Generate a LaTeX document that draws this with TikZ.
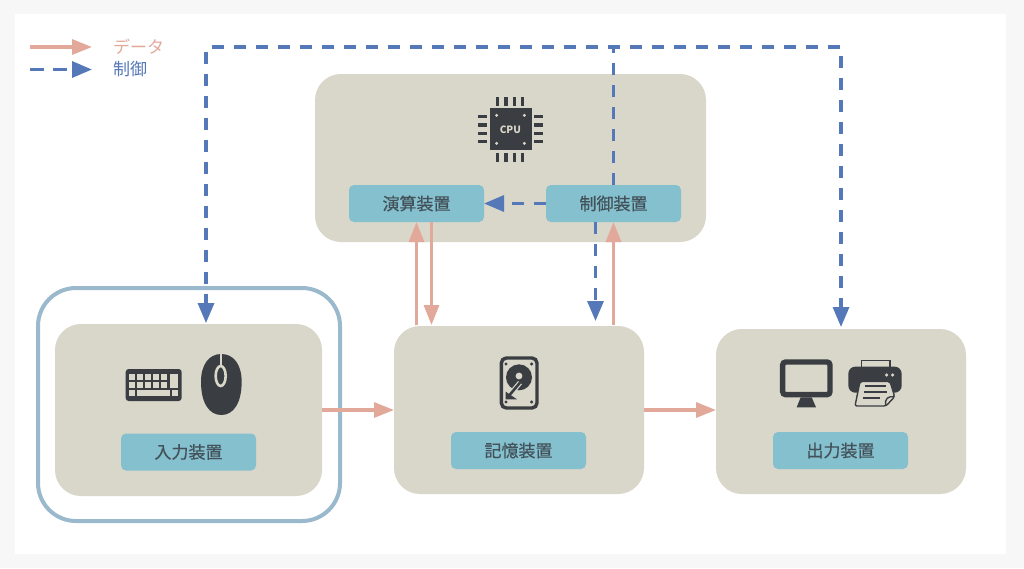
\documentclass[tikz,border=0pt]{standalone}
\usepackage{fontspec}
\setmainfont{Noto Sans CJK JP}
\newfontfamily\tagfont[FakeBold=0.6]{Noto Sans CJK JP}
\usetikzlibrary{arrows.meta}
\definecolor{beige}{HTML}{D9D6CA}
\definecolor{teal}{HTML}{85C0CE}
\definecolor{ink}{HTML}{3A3E42}
\definecolor{labelink}{HTML}{43525A}
\definecolor{ctrlblue}{HTML}{5578B8}
\definecolor{datared}{HTML}{E2A99B}
\definecolor{ringblue}{HTML}{9BB9CC}
\definecolor{pagegrey}{HTML}{F7F7F7}
\tikzset{
  x=1pt,y=-1pt,
  unitbox/.style={fill=beige,draw=none,rounded corners=26pt,minimum width=#1,inner sep=0pt,outer sep=0pt},
  tag/.style={fill=teal,rounded corners=5pt,minimum width=135pt,minimum height=37pt,inner sep=0pt,outer sep=0pt,text=labelink,font=\fontsize{17pt}{19pt}\tagfont},
  dataline/.style={datared,line width=3.2pt,-{Triangle[length=20pt,width=15pt]}},
  ctrlline/.style={ctrlblue,line width=3.2pt,dash pattern=on 12pt off 10pt,-{Triangle[length=20pt,width=16pt]}},
  legendtext/.style={font=\fontsize{17pt}{19pt}\selectfont,inner sep=0pt,anchor=west},
  zm/.style 2 args={shift={(#1,#2)},x=0.33333pt,y=-0.33333pt},
}
\begin{document}
\begin{tikzpicture}
\useasboundingbox (0,0) rectangle (1024,568);
\fill[pagegrey] (0,0) rectangle (1024,568);
\fill[white] (15,14) rectangle (1006,554);

% units
\node[unitbox=391pt,minimum height=168pt] (cpubox) at (510.5,158) {};
\node[unitbox=267pt,minimum height=172pt] (inbox) at (188.5,410) {};
\node[unitbox=250pt,minimum height=168pt] (membox) at (519,410) {};
\node[unitbox=250pt,minimum height=165pt] (outbox) at (841,411.5) {};
\node[draw=ringblue,line width=4pt,rounded corners=38pt,minimum width=302pt,minimum height=233pt,inner sep=0pt] (ring) at (189,404.5) {};

% labels
\node[tag] (alu) at (416.5,203.5) {演算装置};
\node[tag] (ctl) at (613.5,203.5) {制御装置};
\node[tag] (inlabel) at (188.5,452) {入力装置};
\node[tag] (memlabel) at (518.5,450.5) {記憶装置};
\node[tag] (outlabel) at (840.5,450.5) {出力装置};

% connectors
\coordinate (bus) at (613.5,47);
\draw[ctrlline] (ctl.north) -- (bus) -| ([xshift=17.5pt,yshift=1pt]inbox.north);
\draw[ctrlline] (ctl.north) -- (bus) -| ([yshift=2pt]outbox.north);
\draw[ctrlline] (ctl.west) -- (alu.east);
\draw[ctrlline] ([xshift=-18pt]ctl.south) -- ([xshift=-18pt,yshift=5pt]ctl.south |- membox.north);
\draw[dataline] ([yshift=1pt]alu.south |- membox.north) -- (alu.south);
\draw[dataline] ([xshift=15pt]alu.south) -- ([xshift=15pt,yshift=1pt]alu.south |- membox.north);
\draw[dataline] ([yshift=1pt]ctl.south |- membox.north) -- (ctl.south);
\draw[dataline] (inbox.east) -- (membox.west);
\draw[dataline] (membox.east) -- (outbox.west |- membox.east);

% legend
\coordinate (ldataA) at (30,47); \coordinate (ldataB) at (92,47);
\coordinate (lctrlA) at (30,69.5); \coordinate (lctrlB) at (92,69.5);
\draw[dataline] (ldataA) -- (ldataB);
\draw[ctrlline,dash pattern=on 14pt off 9pt] (lctrlA) -- (lctrlB);
\node[legendtext,text=datared] (ldata) at (113,46.5) {データ};
\node[legendtext,text=ctrlblue] (lctrl) at (113,69) {制御};

% CPU icon
\begin{scope}[zm={340}{80}]
  \fill[ink] (450,85) rectangle (575,210);
  \foreach \p in {473,498,523,548} {
    \draw[ink,line width=3.6pt] (\p,51) -- (\p,78);
    \draw[ink,line width=3.6pt] (\p,218) -- (\p,245);
  }
  \foreach \p in {110,135,160,185} {
    \draw[ink,line width=3.6pt] (415,\p) -- (442,\p);
    \draw[ink,line width=3.6pt] (582,\p) -- (609,\p);
  }
  \foreach \a/\b in {470/106,553/106,470/190,553/190} \fill[beige] (\a,\b) circle (1.6pt);
  \node[text=beige,inner sep=0pt,font=\fontsize{10pt}{10pt}\selectfont\bfseries] (cputext) at (511,148) {CPU};
\end{scope}

% keyboard and mouse
\begin{scope}[zm={100}{340}]
  \fill[ink,rounded corners=3pt] (77,87) rectangle (245,183);
  \foreach \k in {88,112,136,160,184} {
    \fill[beige] (\k,103) rectangle +(17,18);
    \fill[beige] (\k,126) rectangle +(17,18);
  }
  \fill[beige] (210,103) rectangle (233,144);
  \fill[beige] (88,151) rectangle (105,168);
  \fill[beige] (112,151) rectangle (210,168);
  \fill[beige] (217,151) rectangle (233,168);
  \fill[ink] (364,42) .. controls (402,42) and (425,75) .. (425,125)
     .. controls (425,190) and (400,225) .. (364,225)
     .. controls (328,225) and (303,190) .. (303,125)
     .. controls (303,75) and (326,42) .. (364,42) -- cycle;
  \draw[beige,line width=2.2pt] (364,42) -- (364,78);
  \draw[beige,line width=2.6pt] (362,108) ellipse [x radius=15,y radius=30];
\end{scope}

% hard disk
\begin{scope}[zm={440}{340}]
  \draw[ink,line width=3.4pt,rounded corners=5pt] (184,54) rectangle (291,204);
  \fill[ink] (237,112) circle (13pt);
  \fill[beige] (237,108) circle (3.4pt);
  \draw[beige,line width=5pt] (240,128) -- (208,166);
  \draw[ink,line width=2.6pt] (240,128) -- (208,166);
  \fill[ink] (197,155) -- (231,178) -- (197,178) -- cycle;
  \foreach \a/\b in {198/72,275/72,198/186,275/186} \fill[ink] (\a,\b) circle (1.7pt);
\end{scope}

% monitor and printer
\begin{scope}[zm={760}{340}]
  \draw[ink,line width=5.4pt,rounded corners=3pt] (68,66) rectangle (210,164);
  \fill[ink] (122,172) -- (155,172) -- (168,202) -- (110,202) -- cycle;
  \draw[ink,line width=1.4pt,fill=beige] (304,82) rectangle (390,62);
  \fill[ink,rounded corners=7pt] (265,80) rectangle (425,158);
  \fill[beige] (380,105) circle (1.8pt);
  \fill[beige] (398,105) circle (1.8pt);
  \draw[ink,line width=1.4pt,fill=beige,rounded corners=2pt] (300,124) -- (390,124) -- (404,170) -- (378,198) -- (285,198) -- cycle;
  \draw[ink,line width=1.9pt] (315,137) -- (378,137);
  \draw[ink,line width=1.9pt] (312,155) -- (382,155);
  \draw[ink,line width=1.9pt] (308,173) -- (360,173);
  \draw[ink,line width=1.4pt] (404,170) .. controls (385,168) and (372,175) .. (378,198);
\end{scope}
\end{tikzpicture}
\end{document}
